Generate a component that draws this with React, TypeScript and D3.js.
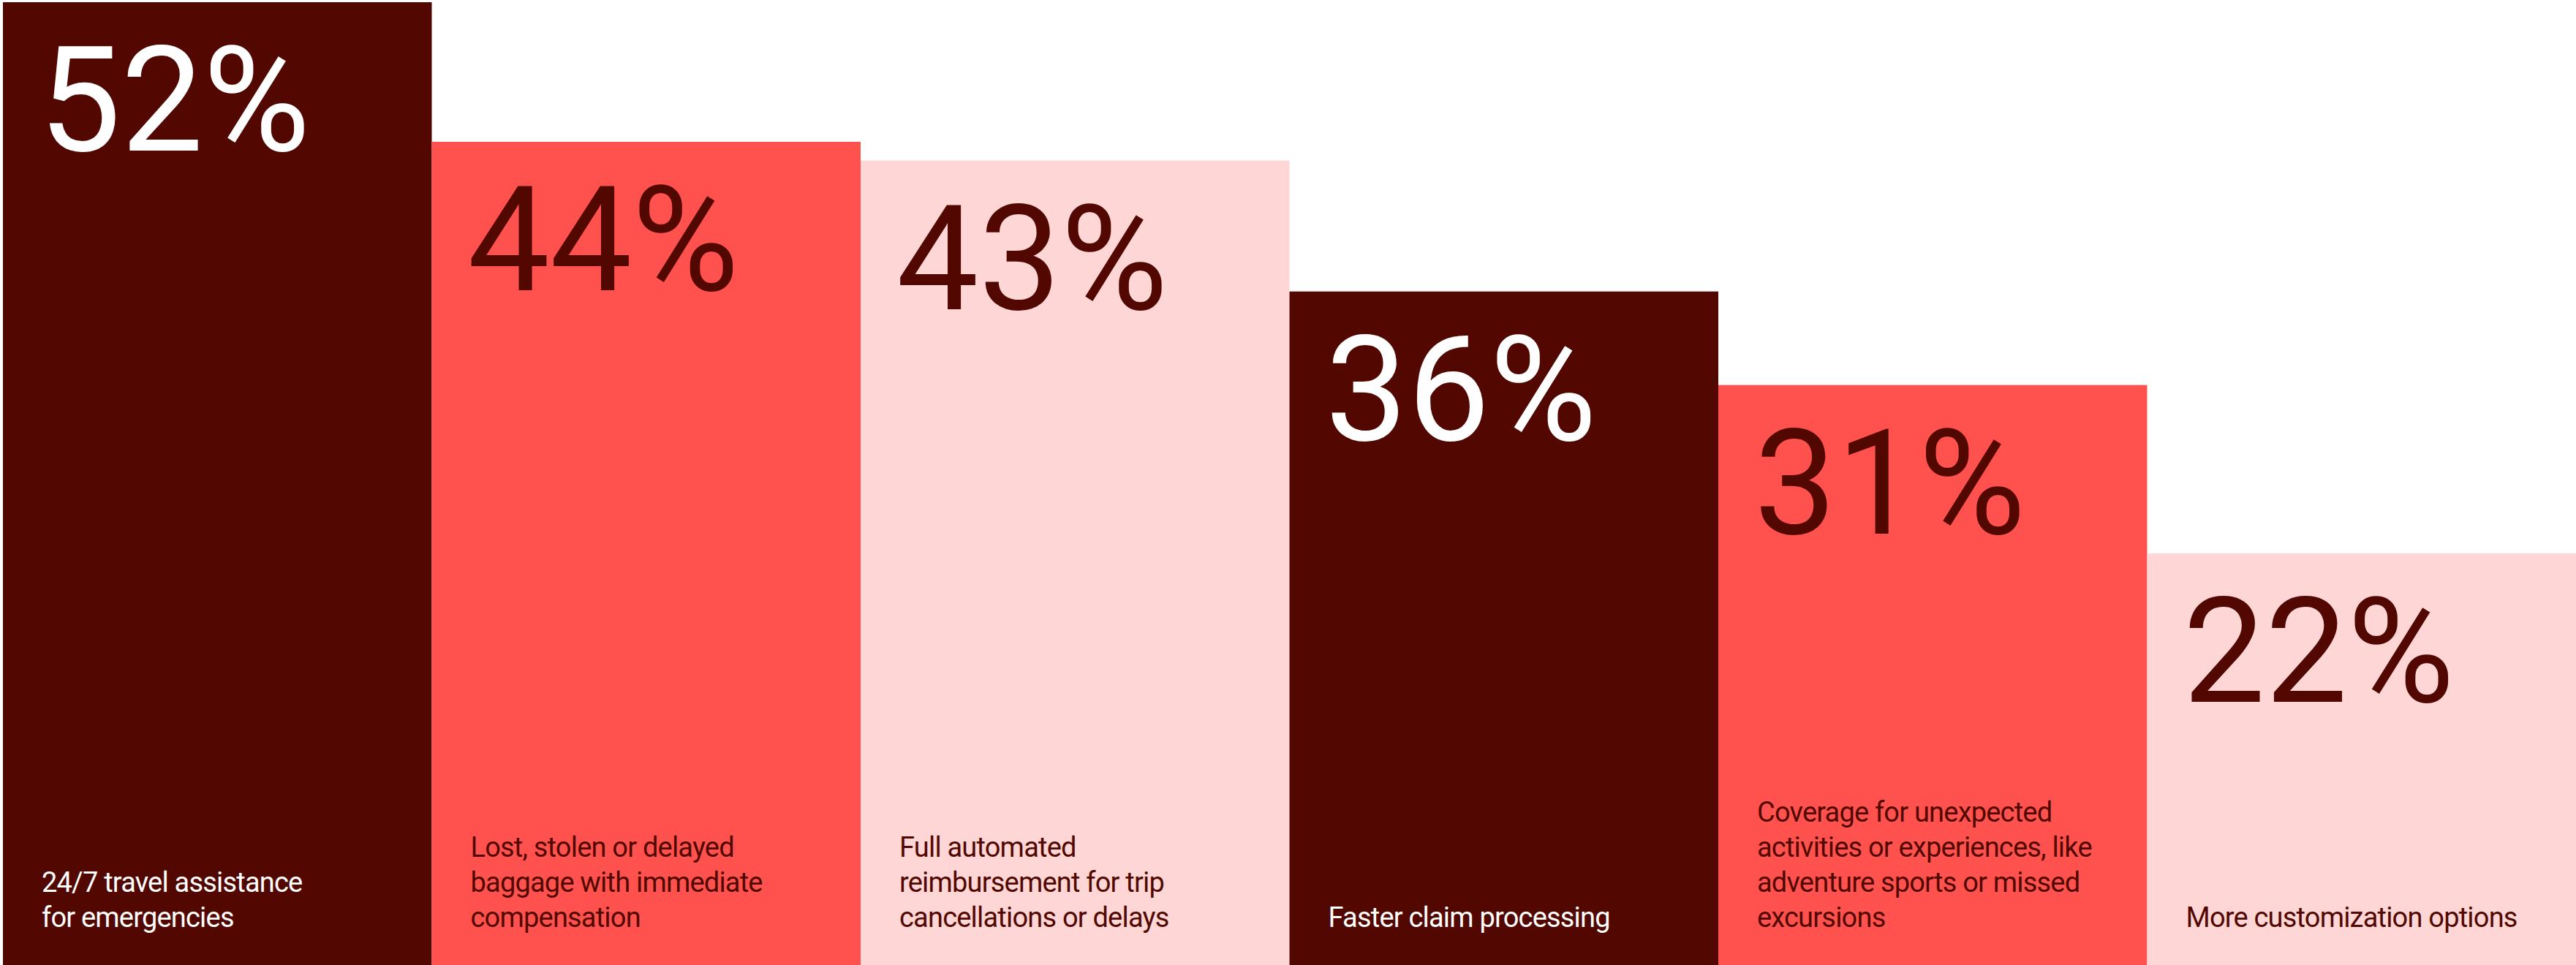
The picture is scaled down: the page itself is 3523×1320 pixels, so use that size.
import React, { useEffect } from "react";
import * as d3 from "d3";

const categories = [
  "24/7 travel assistance for emergencies",
  "Lost, stolen or delayed baggage with immediate compensation",
  "Full automated reimbursement for trip cancellations or delays",
  "Faster claim processing",
  "Coverage for unexpected activities or experiences, like adventure sports or missed excursions",
  "More customization options",
];
const labelLines = [
  ["24/7 travel assistance", "for emergencies"],
  ["Lost, stolen or delayed", "baggage with immediate", "compensation"],
  ["Full automated", "reimbursement for trip", "cancellations or delays"],
  ["Faster claim processing"],
  ["Coverage for unexpected", "activities or experiences, like", "adventure sports or missed", "excursions"],
  ["More customization options"],
];
const values = [52, 44, 43, 36, 31, 22];
const valueLabels = ["52%", "44%", "43%", "36%", "31%", "22%"];

const W = 3523;
const H = 1320;
const DARK = "#520800";
const CORAL = "#FF524F";
const PINK = "#FED6D6";
const fills = [DARK, CORAL, PINK, DARK, CORAL, PINK];
const textFills = ["#ffffff", DARK, DARK, "#ffffff", DARK, DARK];

export default function App() {
  useEffect(() => {
    document.body.style.margin = "0";
  }, []);
  const x = d3.scaleBand<number>().domain(d3.range(categories.length)).range([4, W]).paddingInner(0).paddingOuter(0);
  const y = d3.scaleLinear().domain([0, 51.58]).range([H, 0]);
  const topLimit = 3;
  const font = "Roboto, 'Noto Sans', sans-serif";
  return (
    <svg width={W} height={H} style={{ display: "block" }} xmlns="http://www.w3.org/2000/svg">
      <rect x={0} y={0} width={W} height={H} fill="#ffffff" />
      {values.map((v, i) => {
        const x0 = x(i)!;
        const top = Math.max(topLimit, y(v));
        const lines = labelLines[i];
        return (
          <g key={categories[i]}>
            <rect x={x0} y={top} width={x.bandwidth()} height={H - top} fill={fills[i]} />
            <text
              x={x0 + 49}
              y={top + 203}
              fill={textFills[i]}
              fontFamily={font}
              fontSize={200}
              fontWeight={400}
              letterSpacing={0}
            >
              {valueLabels[i]}
            </text>
            <text fill={textFills[i]} fontFamily={font} fontSize={38} letterSpacing={-0.8}>
              {lines.map((ln, j) => (
                <tspan key={j} x={x0 + 53} y={1268 - (lines.length - 1 - j) * 48}>
                  {ln}
                </tspan>
              ))}
            </text>
          </g>
        );
      })}
    </svg>
  );
}
